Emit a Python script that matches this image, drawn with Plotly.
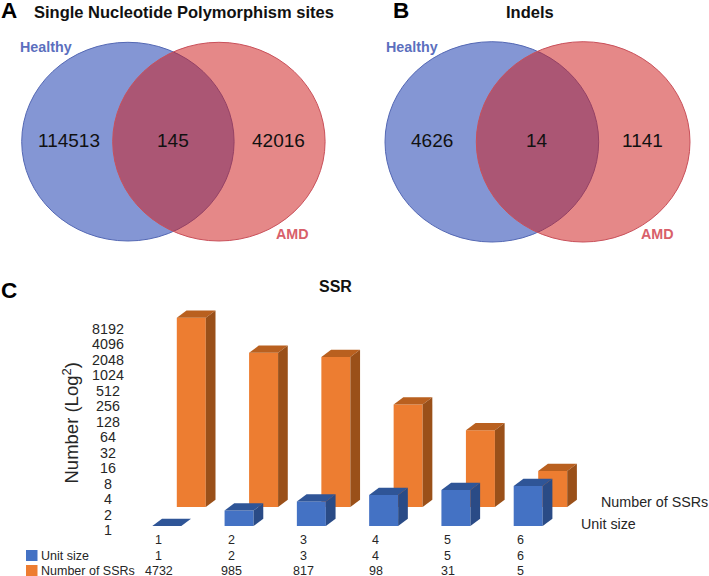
import math
import plotly.graph_objects as go

# ---- data ----
categories = [1, 2, 3, 4, 5, 6]
unit_size = [1, 2, 3, 4, 5, 6]
num_ssrs = [4732, 985, 817, 98, 31, 5]
log_ticks = [1, 2, 4, 8, 16, 32, 64, 128, 256, 512, 1024, 2048, 4096, 8192]
venn_a = ["114513", "145", "42016"]
venn_b = ["4626", "14", "1141"]

W, H = 709, 576
BLUE, BLUE_TOP, BLUE_SIDE = "#4472C4", "#2F5597", "#2A4B86"
ORANGE, ORANGE_TOP, ORANGE_SIDE = "#ED7D31", "#B9601F", "#9A5019"
PX_PER_CAT = 72.28
PX_PER_LOG2 = 15.5
BAR_W = 29 / PX_PER_CAT
DX, DY = 9.7, 7.3  # depth of the 3D look, px


def x_range(center_first):
    return [1 - center_first / PX_PER_CAT, 1 + (W - center_first) / PX_PER_CAT]


def y_range(base_px):
    f = math.log10(2) / PX_PER_LOG2
    return [(base_px - H) * f, base_px * f]


def depth_faces(vals, top, side, xa, ya):
    """Top and side faces derived from each value with the axis scales."""
    traces = []
    ddx = DX / PX_PER_CAT
    mul = 2 ** (DY / PX_PER_LOG2)
    for c, v in zip(categories, vals):
        l, r = c - BAR_W / 2, c + BAR_W / 2
        traces.append(go.Scatter(x=[l, r, r + ddx, l + ddx, l], y=[v, v, v * mul, v * mul, v],
                                 fill="toself", fillcolor=top, mode="none", xaxis=xa, yaxis=ya,
                                 showlegend=False, hoverinfo="skip"))
        if v > 1:
            traces.append(go.Scatter(x=[r, r + ddx, r + ddx, r, r], y=[1, mul, v * mul, v, 1],
                                     fill="toself", fillcolor=side, mode="none", xaxis=xa, yaxis=ya,
                                     showlegend=False, hoverinfo="skip"))
    return traces


fig = go.Figure()
# orange series (back row)
fig.add_trace(go.Bar(x=categories, y=[v - 1 for v in num_ssrs], base=1, width=BAR_W,
                     marker=dict(color=ORANGE, line_width=0), xaxis="x", yaxis="y", showlegend=False))
fig.add_traces(depth_faces(num_ssrs, ORANGE_TOP, ORANGE_SIDE, "x", "y"))
# blue series (front row)
fig.add_trace(go.Bar(x=categories, y=[v - 1 for v in unit_size], base=1, width=BAR_W,
                     marker=dict(color=BLUE, line_width=0), xaxis="x2", yaxis="y2", showlegend=False))
fig.add_traces(depth_faces(unit_size, BLUE_TOP, BLUE_SIDE, "x2", "y2"))
# value axis labels
fig.add_trace(go.Scatter(x=[1 - 58.8 / PX_PER_CAT] * len(log_ticks), y=log_ticks,
                         text=[str(t) for t in log_ticks], mode="text", textposition="middle center",
                         textfont=dict(size=14.3, color="#262626"), xaxis="x2", yaxis="y3",
                         showlegend=False, hoverinfo="skip"))

hidden = dict(visible=False, fixedrange=True)
fig.update_layout(
    width=W, height=H, margin=dict(l=0, r=0, t=0, b=0), autosize=False,
    paper_bgcolor="white", plot_bgcolor="white", barmode="overlay",
    font=dict(family="Liberation Sans", color="#111111"),
    xaxis=dict(range=x_range(191.3), domain=[0, 1], **hidden),
    yaxis=dict(type="log", range=y_range(507), domain=[0, 1], **hidden),
    xaxis2=dict(range=x_range(166.8), overlaying="x", **hidden),
    yaxis2=dict(type="log", range=y_range(526), overlaying="y", **hidden),
    yaxis3=dict(type="log", range=y_range(531.6), overlaying="y", **hidden),
)


def px(x):
    return x / W


def py(y):
    return 1 - y / H


def text(x, y, s, size, color="#111111", bold=False, anchor="center", angle=0):
    fig.add_annotation(x=px(x), y=py(y), xref="paper", yref="paper", text=f"<b>{s}</b>" if bold else s,
                       showarrow=False, font=dict(size=size, color=color), xanchor=anchor, yanchor="middle",
                       textangle=angle, borderpad=0, borderwidth=0)


def venn(x0, y0, y1, d, gap, label_h, label_a, vals, val_x, val_y, title, title_x, letter, letter_x):
    fig.add_shape(type="circle", xref="paper", yref="paper", x0=px(x0), x1=px(x0 + d), y0=py(y1), y1=py(y0),
                  fillcolor="#8496D4", line=dict(color="#5468B4", width=1), layer="above")
    fig.add_shape(type="circle", xref="paper", yref="paper", x0=px(x0 + gap), x1=px(x0 + gap + d), y0=py(y1), y1=py(y0),
                  fillcolor="rgba(206,30,30,0.53)", line=dict(color="#C9505A", width=1), layer="above")
    for vx, v in zip(val_x, vals):
        text(vx, val_y, v, 19, "#111111")
    text(label_h[0], label_h[1], "Healthy", 14.3, "#5B6FBE", bold=True)
    text(label_a[0], label_a[1], "AMD", 14.3, "#D8606A", bold=True)
    text(title_x, 12.5, title, 16.5, "#111111", bold=True)
    text(letter_x, 10.5, letter, 22.5, "#000000", bold=True)


venn(21.7, 42.3, 241, 212.4, 91, (46, 47), (292, 234), venn_a, (69, 172.5, 278), 140.5,
     "Single Nucleotide Polymorphism sites", 184, "A", 9)
venn(385, 41.7, 242, 213.7, 91.3, (411.7, 47), (657.7, 234), venn_b, (432, 536.7, 642.7), 140.5,
     "Indels", 529.7, "B", 400.7)

text(9, 290, "C", 22.5, "#000000", bold=True)
text(335, 286.5, "SSR", 16, "#111111", bold=True)
text(70.5, 423, "Number (Log<sup>2</sup>)", 18.5, "#262626", angle=-90)
text(654, 501.5, "Number of SSRs", 14.3, "#262626")
text(608.5, 524, "Unit size", 14.3, "#262626")

# data table under the chart
for c, u, n in zip(categories, unit_size, num_ssrs):
    for y, s in ((540, c), (555.5, u), (571, n)):
        fig.add_annotation(x=c, y=py(y), xref="x2", yref="paper", text=str(s), showarrow=False, xshift=-8,
                           font=dict(size=12.5, color="#262626"), yanchor="middle")
text(40.5, 555.5, "Unit size", 12.5, "#262626", anchor="left")
text(40.5, 571, "Number of SSRs", 12.5, "#262626", anchor="left")
fig.add_shape(type="rect", xref="paper", yref="paper", x0=px(26), x1=px(37.5), y0=py(561), y1=py(550),
              fillcolor=BLUE, line_width=0)
fig.add_shape(type="rect", xref="paper", yref="paper", x0=px(26), x1=px(37.5), y0=py(576), y1=py(565),
              fillcolor=ORANGE, line_width=0)

fig.write_html("out.html", config={"displayModeBar": False},
               post_script="document.body.style.margin='0';document.documentElement.style.overflow='hidden';")
